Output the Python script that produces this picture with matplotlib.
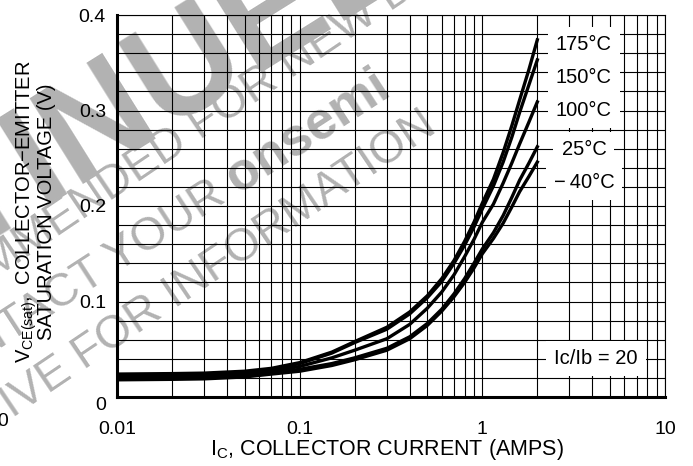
"""
VCE(sat) vs collector current, Ic/Ib = 20, several junction temperatures.
"""
import numpy as np
import matplotlib
matplotlib.use("Agg")
import matplotlib.pyplot as plt
from matplotlib.ticker import FixedLocator, NullFormatter

plt.rcParams['font.family'] = ['Liberation Sans', 'DejaVu Sans']
plt.rcParams['mathtext.fontset'] = 'custom'
plt.rcParams['mathtext.rm'] = 'Liberation Sans'
plt.rcParams['mathtext.it'] = 'Liberation Sans'

# collector current (A)
ic = [0.01, 0.02, 0.03, 0.05, 0.07, 0.1, 0.15, 0.2, 0.3, 0.4, 0.5, 0.6, 0.7, 0.8, 0.9,
      1.0, 1.15, 1.3, 1.45, 1.6, 1.8, 2.0]

# VCE(sat) in volts for each temperature
v_175 = [0.024, 0.0245, 0.025, 0.027, 0.030, 0.036, 0.047, 0.058, 0.073, 0.089, 0.106, 0.124, 0.143, 0.163, 0.183,
         0.203, 0.228, 0.256, 0.284, 0.311, 0.343, 0.374]
v_150 = [0.023, 0.0235, 0.024, 0.026, 0.029, 0.035, 0.046, 0.057, 0.071, 0.087, 0.104, 0.121, 0.140, 0.159, 0.178,
         0.197, 0.221, 0.246, 0.272, 0.298, 0.327, 0.353]
v_100 = [0.021, 0.0215, 0.022, 0.024, 0.027, 0.032, 0.041, 0.049, 0.061, 0.076, 0.093, 0.110, 0.128, 0.147, 0.165,
         0.183, 0.202, 0.224, 0.245, 0.265, 0.288, 0.309]
v_25 = [0.019, 0.0195, 0.020, 0.022, 0.025, 0.029, 0.035, 0.041, 0.051, 0.063, 0.077, 0.092, 0.108, 0.124, 0.140,
        0.155, 0.172, 0.190, 0.209, 0.227, 0.245, 0.262]
v_m40 = [0.018, 0.0185, 0.019, 0.021, 0.024, 0.027, 0.033, 0.039, 0.049, 0.061, 0.075, 0.090, 0.105, 0.120, 0.135,
         0.150, 0.166, 0.182, 0.199, 0.215, 0.231, 0.246]

curves = [v_175, v_150, v_100, v_25, v_m40]
temp_labels = ["175°C", "150°C", "100°C", "25°C", "\u2212\u200940°C"]
label_y = [0.3695, 0.335, 0.3005, 0.2595, 0.2250]

x_ticks = [0.01, 0.1, 1, 10]
x_ticklabels = ["0.01", "0.1", "1", "10"]
y_ticks = [0, 0.1, 0.2, 0.3, 0.4]
y_ticklabels = ["0", "0.1", "0.2", "0.3", "0.4"]

W, H = 693, 466
fig = plt.figure(figsize=(W / 100, H / 100), dpi=100)


def px(x, y):
    return x / W, 1 - y / H


# watermark, drawn under the axes
wm = '#b2b2b2'
wm_kw = dict(color=wm, rotation_mode='anchor', va='baseline', zorder=-5)
fig.text(*px(40, 205), "DISCONT", fontsize=105, fontweight='bold', rotation=32, ha='right', **wm_kw)
fig.text(*px(40, 205), "INUED", fontsize=105, fontweight='bold', rotation=32, ha='left', **wm_kw)
fig.text(*px(200, 140), "NOT RECOMMENDED ", fontsize=33, rotation=34, ha='right', **wm_kw)
fig.text(*px(200, 140), "FOR NEW DESIGN", fontsize=33, rotation=34, ha='left', **wm_kw)
fig.text(*px(238, 194), "CONTACT YOUR ", fontsize=33, rotation=33, ha='right', **wm_kw)
fig.text(*px(238, 194), "onsemi", fontsize=38, fontweight='bold', rotation=33, ha='left', **wm_kw)
fig.text(*px(84, 370), "REPRESENTATIVE ", fontsize=33, rotation=34, ha='right', **wm_kw)
fig.text(*px(84, 370), "FOR INFORMATION", fontsize=33, rotation=34, ha='left', **wm_kw)

ax = fig.add_axes([117 / W, 1 - 397 / H, (665 - 117) / W, (397 - 15) / H])
ax.patch.set_alpha(0)

for v in curves:
    ax.plot(ic, v, color='k', lw=2.4, solid_joinstyle='round', zorder=3)

ax.set_xscale('log')
ax.set_xlim(0.01, 10)
ax.set_ylim(0, 0.4)
ax.xaxis.set_major_locator(FixedLocator(x_ticks))
ax.xaxis.set_minor_locator(FixedLocator([m * d for d in (0.01, 0.1, 1) for m in range(2, 10)]))
ax.xaxis.set_minor_formatter(NullFormatter())
ax.set_xticklabels(x_ticklabels)
ax.set_yticks(y_ticks)
ax.set_yticklabels(y_ticklabels)
ax.yaxis.set_minor_locator(FixedLocator(np.arange(0.02, 0.4, 0.02)))
ax.tick_params(which='both', length=0, labelsize=14, colors='k')
ax.tick_params(axis='x', pad=17)
ax.tick_params(axis='y', pad=8)
ax.get_yticklabels()[0].set_va('top')
ax.grid(which='both', color='k', lw=0.8)
ax.set_axisbelow(True)
for s in ('left', 'bottom'):
    ax.spines[s].set_linewidth(2.2)
for s in ('top', 'right'):
    ax.spines[s].set_linewidth(0.8)

box = dict(boxstyle='square,pad=0.4', fc='white', ec='none')
for lab, y in zip(temp_labels, label_y):
    ax.text(3.6, y, lab, fontsize=14.5, ha='center', va='center', bbox=box, zorder=4)
ax.text(4.2, 0.0405, "Ic/Ib = 20", fontsize=14.5, ha='center', va='center', bbox=box, zorder=4)

fig.text(*px(27, 212), "V$_{\\mathrm{CE(sat)}}$,  COLLECTOR\u2212EMITTER", rotation=90,
         fontsize=14.5, ha='center', va='center')
fig.text(*px(47, 212), "SATURATION VOLTAGE (V)", rotation=90, fontsize=14.5, ha='center', va='center')
fig.text(*px(387, 450), "I$_{\\mathrm{C}}$, COLLECTOR CURRENT (AMPS)", fontsize=15.5, ha='center', va='center')
fig.text(*px(-2, 422), "10", fontsize=14, ha='center', va='center')

fig.savefig("out.png", dpi=100)
